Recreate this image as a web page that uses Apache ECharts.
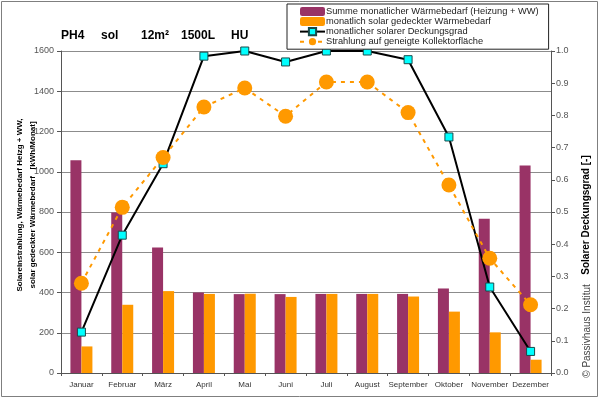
<!DOCTYPE html>
<html><head><meta charset="utf-8">
<script src="https://cdn.jsdelivr.net/npm/echarts@6/dist/echarts.min.js"></script>
<style>html,body{margin:0;padding:0;background:#fff}#c{width:600px;height:399px}</style>
</head><body><div id="c"></div>
<script>
const months = ['Januar','Februar','März','April','Mai','Juni','Juli','August','September','Oktober','November','Dezember'];
const demand = [1057, 798, 623, 400, 392, 392, 393, 393, 393, 420, 767, 1031];
const solarCovered = [132, 339, 407, 393, 394, 378, 393, 393, 380, 305, 202, 66];
const coverage = [0.127, 0.428, 0.65, 0.984, 1.0, 0.966, 1.0, 1.0, 0.973, 0.733, 0.267, 0.067];
const radiation = [446, 823, 1071, 1322, 1416, 1276, 1446, 1446, 1294, 934, 570, 339];
const titleParts = ['PH4','sol','12m²','1500L','HU'];
const titleX = [61, 101, 141, 181, 231];

const FONT = '"Liberation Sans", Arial, sans-serif';
const chart = echarts.init(document.getElementById('c'));
const graphic = [
  {type:'rect', shape:{x:1.5,y:1.5,width:596,height:395}, style:{fill:'none',stroke:'#7f7f7f',lineWidth:1}, silent:true}
];
titleParts.forEach((t,i)=>graphic.push({type:'text', x:titleX[i], y:36, style:{text:t, font:'bold 12px '+FONT, fill:'#000', textVerticalAlign:'middle'}}));
graphic.push({type:'text', x:26, y:205, rotation:Math.PI/2, style:{text:'Solareinstrahlung, Wärmebedarf Heizg + WW,\nsolar gedeckter Wärmebedarf   [kWh/Monat]', font:'bold 8px '+FONT, fill:'#000', textAlign:'center', textVerticalAlign:'middle', lineHeight:13}});
graphic.push({type:'text', x:586, y:215, rotation:Math.PI/2, style:{text:'Solarer Deckungsgrad [-]', font:'bold 10px '+FONT, fill:'#000', textAlign:'center', textVerticalAlign:'middle'}});
graphic.push({type:'text', x:587, y:331, rotation:Math.PI/2, style:{text:'© Passivhaus Institut', font:'10px '+FONT, fill:'#444', textAlign:'center', textVerticalAlign:'middle'}});

chart.setOption({
  animation:false,
  textStyle:{fontFamily:FONT},
  graphic: graphic,
  legend:{
    orient:'vertical', left:287, top:4, itemGap:1, itemWidth:25, itemHeight:9,
    padding:[3,10,3,12], borderColor:'#222', borderWidth:1, backgroundColor:'#fff',
    textStyle:{fontSize:9.3, color:'#222', fontFamily:FONT, padding:[0,0,0,-4]},
    data:['Summe monatlicher Wärmebedarf (Heizung + WW)','monatlich solar gedeckter Wärmebedarf','monatlicher solarer Deckungsgrad','Strahlung auf geneigte Kollektorfläche']
  },
  grid:{left:61, right:49, top:51, bottom:26, containLabel:false},
  xAxis:{
    type:'category', data:months,
    axisLine:{lineStyle:{color:'#555'}},
    axisTick:{show:true, length:3, lineStyle:{color:'#555'}},
    axisLabel:{fontSize:8, color:'#333', margin:8, interval:0}
  },
  yAxis:[
    {type:'value', min:0, max:1600, interval:200,
     axisLine:{show:true, lineStyle:{color:'#555'}},
     axisTick:{show:true, length:4, lineStyle:{color:'#555'}},
     axisLabel:{fontSize:9, color:'#555', margin:7, formatter:v=>String(v)},
     splitLine:{lineStyle:{color:'#8c8c8c', width:1}}},
    {type:'value', min:0, max:1, interval:0.1, position:'right',
     axisLine:{show:true, lineStyle:{color:'#555'}},
     axisTick:{show:true, length:4, lineStyle:{color:'#555'}},
     axisLabel:{fontSize:9, color:'#555', margin:5, formatter:v=>v.toFixed(1)},
     splitLine:{show:false}}
  ],
  series:[
    {name:'Summe monatlicher Wärmebedarf (Heizung + WW)', type:'bar', data:demand, barWidth:11, barGap:'0%', itemStyle:{color:'#993366'}},
    {name:'monatlich solar gedeckter Wärmebedarf', type:'bar', data:solarCovered, barWidth:11, itemStyle:{color:'#FF9900'}},
    {name:'monatlicher solarer Deckungsgrad', type:'line', yAxisIndex:1, data:coverage, symbol:'rect', symbolSize:8,
     lineStyle:{color:'#000', width:2}, itemStyle:{color:'#00FFFF', borderColor:'#1a4a4a', borderWidth:1}, z:3},
    {name:'Strahlung auf geneigte Kollektorfläche', type:'line', data:radiation, symbol:'circle', symbolSize:15,
     lineStyle:{color:'#FF9900', width:2, type:[4,5]}, itemStyle:{color:'#FF9900'}, z:4}
  ]
});
</script></body></html>
